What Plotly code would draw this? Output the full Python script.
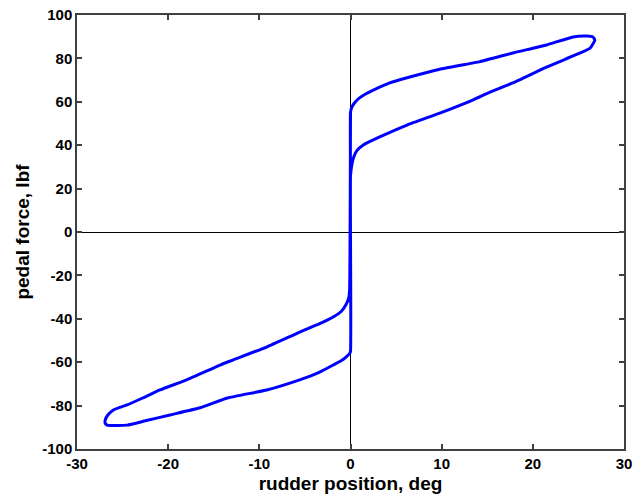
import plotly.graph_objects as go

# Hysteresis loop: rudder position (deg) vs pedal force (lbf)
rudder_deg = [
    0.0, 0.0, 0.1, 0.3, 0.6, 1.0, 1.7, 2.5, 4.3, 6.5, 9.8, 14.2, 17.8, 21.5, 24.4, 25.9, 26.6, 26.8,
    26.3, 25.2, 21.5, 17.8, 15.3, 13.4, 9.8, 6.2, 3.2, 1.4, 0.7, 0.35, 0.15, 0.0,
    0.0, -0.1, -0.4, -0.9, -1.9, -3.5, -5.5, -9.2, -13.5, -16.5, -19.8, -22.5, -24.5, -26.0, -26.7, -26.9, -26.9,
    -26.6, -26.0, -25.3, -24.5, -22.8, -20.9, -17.9, -14.3, -12.9, -9.2, -5.5, -3.5, -1.9, -1.0, -0.5, -0.2, -0.1, 0.0,
]
pedal_lbf = [
    26.0, 55.0, 57.0, 58.7, 60.3, 61.8, 63.7, 65.4, 68.7, 71.4, 75.0, 78.5, 82.5, 86.2, 89.9, 90.3, 89.9, 88.5,
    84.8, 82.5, 76.0, 68.7, 64.5, 60.8, 54.8, 49.3, 43.8, 40.1, 37.5, 34.5, 31.0, 26.0,
    -55.0, -56.0, -57.3, -59.0, -61.3, -64.8, -68.0, -72.8, -76.5, -81.0, -84.3, -87.0, -89.0, -89.2, -89.0, -88.2, -86.6,
    -84.2, -82.0, -80.8, -79.7, -76.5, -72.8, -68.0, -61.3, -59.0, -53.0, -46.0, -42.5, -39.2, -36.5, -33.5, -30.5, -26.7, 55.0,
]

x_ticks = [-30, -20, -10, 0, 10, 20, 30]
y_ticks = [-100, -80, -60, -40, -20, 0, 20, 40, 60, 80, 100]

fig = go.Figure()
fig.add_trace(go.Scatter(
    x=rudder_deg, y=pedal_lbf, mode="lines",
    line=dict(color="#0000FF", width=3, shape="spline", smoothing=0.4), showlegend=False,
))

axis_common = dict(
    showgrid=False, showline=True, linecolor="#404040", linewidth=1.5, mirror="ticks",
    ticks="inside", ticklen=5, tickwidth=1.5, tickcolor="#404040",
    zeroline=True, zerolinecolor="black", zerolinewidth=1, automargin=False,
    tickfont=dict(family="Liberation Sans", size=15, color="black", weight="bold"),
)

fig.update_xaxes(
    range=[-30, 30], tickvals=x_ticks, ticktext=[str(v) for v in x_ticks],
    title=dict(text="<b>rudder position, deg</b>", font=dict(family="Liberation Sans", size=19, color="black"), standoff=6),
    **axis_common,
)
fig.update_yaxes(
    range=[-100, 100], tickvals=y_ticks, ticktext=[str(v) for v in y_ticks],
    title=dict(text="<b>pedal force, lbf</b>", font=dict(family="Liberation Sans", size=19, color="black"), standoff=8),
    **axis_common,
)

fig.update_layout(
    width=634, height=504,
    margin=dict(l=77, r=10, t=15, b=55),
    plot_bgcolor="white", paper_bgcolor="white",
)

fig.write_html("out.html")
